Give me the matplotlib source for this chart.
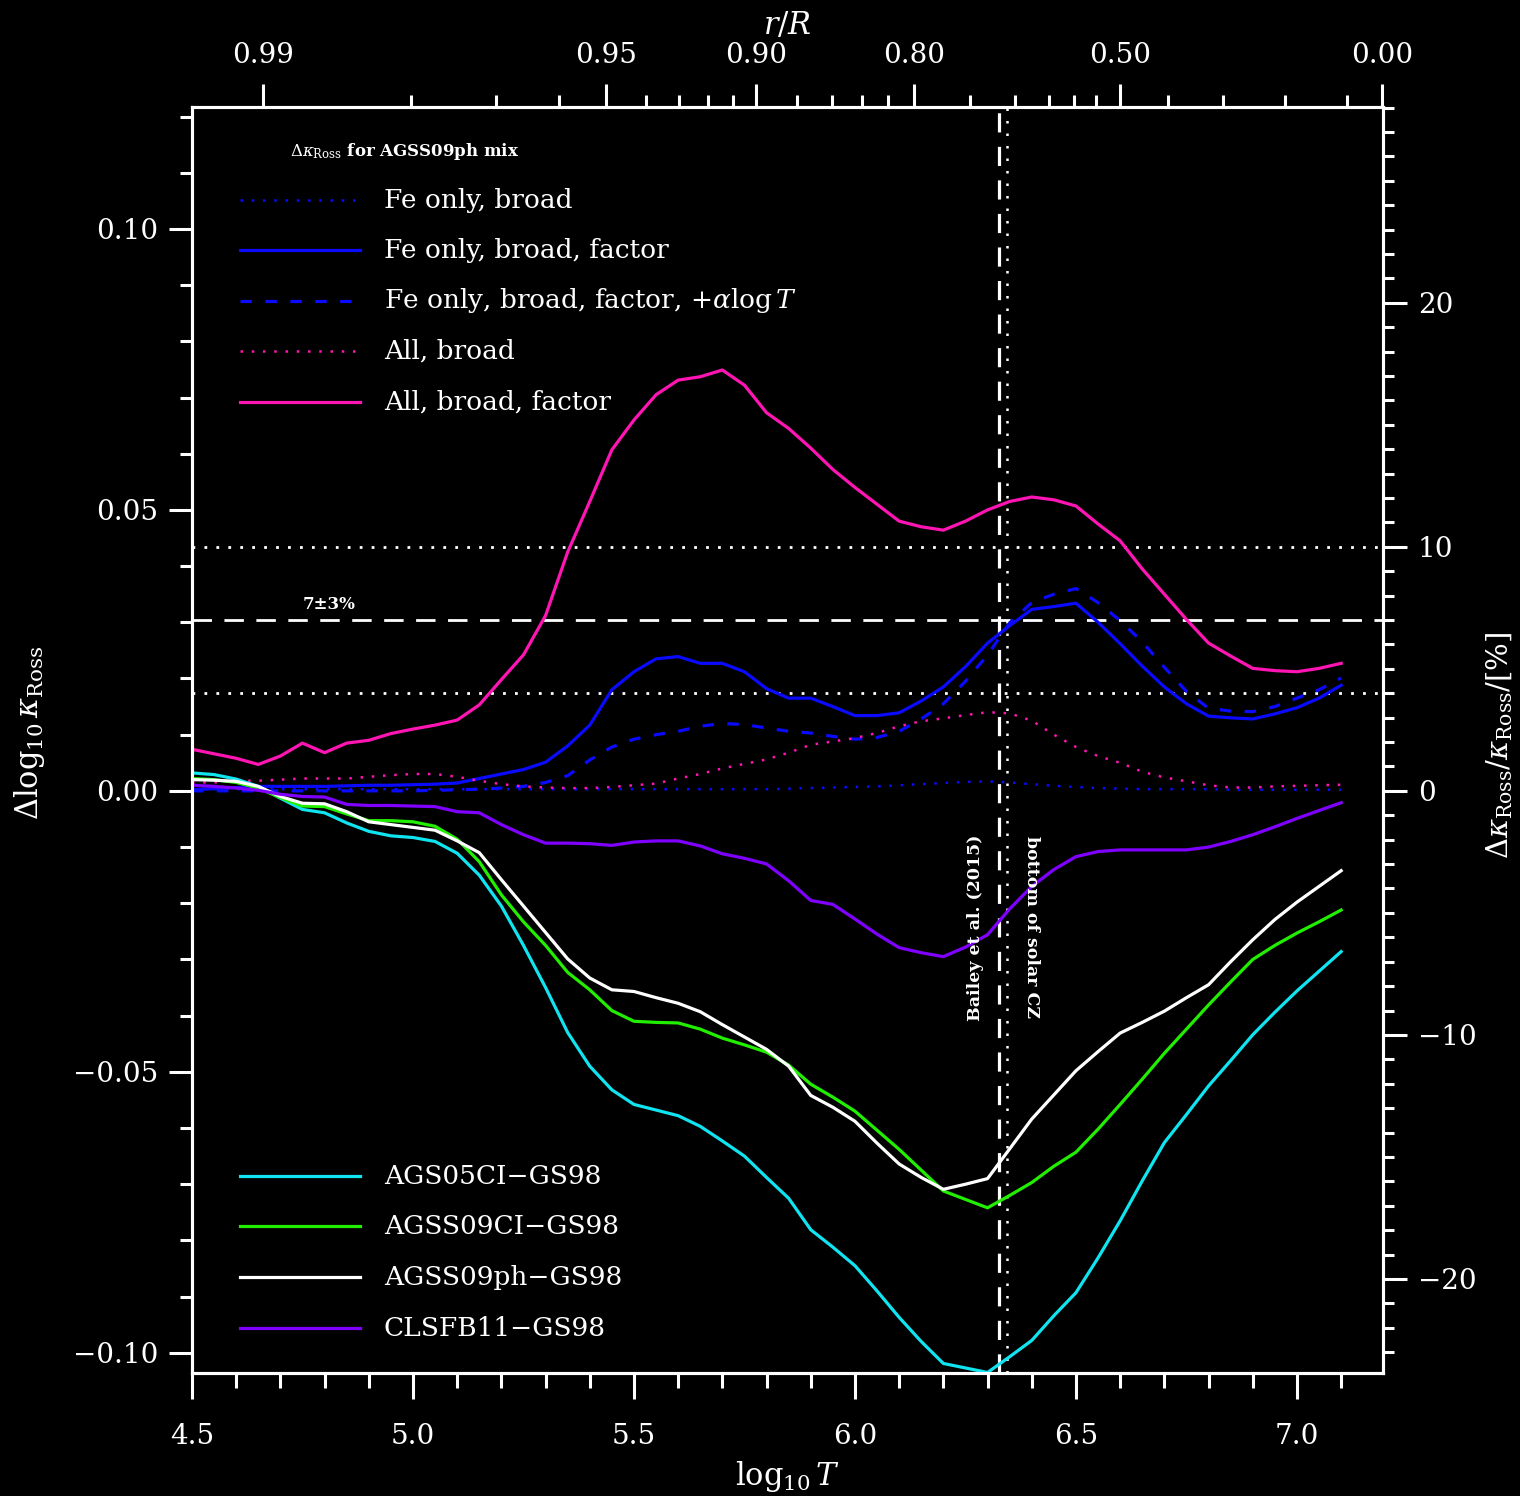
import numpy as np
import matplotlib
matplotlib.use('Agg')
import matplotlib.pyplot as plt
from matplotlib.ticker import MultipleLocator, FixedLocator, FuncFormatter
from matplotlib.lines import Line2D
from matplotlib.transforms import blended_transform_factory

plt.rcParams['font.family'] = ['DejaVu Serif']
plt.rcParams['mathtext.fontset'] = 'dejavuserif'

# ---------------- data ----------------
logT = [4.50, 4.55, 4.60, 4.65, 4.70, 4.75, 4.80, 4.85, 4.90, 4.95,
        5.00, 5.05, 5.10, 5.15, 5.20, 5.25, 5.30, 5.35, 5.40, 5.45,
        5.50, 5.55, 5.60, 5.65, 5.70, 5.75, 5.80, 5.85, 5.90, 5.95,
        6.00, 6.05, 6.10, 6.15, 6.20, 6.25, 6.30, 6.35, 6.40, 6.45,
        6.50, 6.55, 6.60, 6.65, 6.70, 6.75, 6.80, 6.85, 6.90, 6.95,
        7.00, 7.05, 7.10]

fe_broad = [.0003, .0003, .0003, .0003, .0003, .0003, .0003, .0003, .0003, .0003,
            .0003, .0003, .0003, .0003, .0003, .0003, .0003, .0003, .0003, .0003,
            .0003, .0003, .0003, .0003, .0003, .0003, .0003, .0004, .0005, .0006,
            .0007, .0008, .0010, .0012, .0014, .0016, .0017, .0015, .0012, .0009,
            .0007, .0005, .0004, .0003, .0003, .0003, .0003, .0002, .0002, .0002,
            .0002, .0002, .0002]

fe_factor = [.0002, .0004, .0006, .0008, .0008, .0008, .0008, .0009, .0010, .0010,
             .0011, .0012, .0014, .0022, .0030, .0038, .0051, .0080, .0117, .0180,
             .0212, .0235, .0239, .0227, .0227, .0212, .0182, .0165, .0165, .0150,
             .0134, .0134, .0139, .0160, .0185, .0221, .0263, .0294, .0323, .0328,
             .0334, .0300, .0262, .0222, .0185, .0155, .0133, .0130, .0128, .0137,
             .0148, .0165, .0188]

fe_factor_alpha = [.0000, .0000, .0000, .0000, .0000, .0000, .0000, .0000, .0000, .0000,
                   .0000, .0001, .0002, .0003, .0005, .0008, .0015, .0027, .0055, .0078,
                   .0092, .0100, .0106, .0115, .0120, .0118, .0112, .0106, .0103, .0097,
                   .0092, .0095, .0106, .0128, .0155, .0195, .0242, .0299, .0335, .0350,
                   .0360, .0335, .0303, .0265, .0220, .0177, .0147, .0142, .0141, .0150,
                   .0165, .0180, .0201]

all_broad = [.0015, .0015, .0018, .0018, .0020, .0022, .0022, .0022, .0025, .0028,
             .0030, .0030, .0025, .0018, .0012, .0008, .0006, .0005, .0005, .0007,
             .0010, .0013, .0022, .0030, .0040, .0048, .0056, .0068, .0082, .0088,
             .0094, .0103, .0115, .0124, .0129, .0135, .0140, .0138, .0125, .0100,
             .0078, .0062, .0050, .0034, .0024, .0017, .0010, .0006, .0006, .0008,
             .0009, .0010, .0011]

all_factor = [.0074, .0066, .0058, .0047, .0062, .0085, .0068, .0085, .0090, .0102,
              .0110, .0117, .0126, .0153, .0198, .0242, .0312, .0425, .0515, .0607,
              .0660, .0705, .0731, .0737, .0749, .0722, .0673, .0645, .0610, .0572,
              .0540, .0510, .0480, .0470, .0464, .0480, .0500, .0515, .0523, .0518,
              .0507, .0475, .0445, .0395, .0350, .0305, .0263, .0240, .0218, .0214,
              .0212, .0218, .0227]

ags05ci = [.0032, .0029, .0021, .0008, -.0013, -.0033, -.0039, -.0057, -.0072, -.0080,
           -.0083, -.0090, -.0111, -.0150, -.0205, -.0275, -.0350, -.0430, -.0490, -.0532,
           -.0558, -.0568, -.0578, -.0597, -.0623, -.0650, -.0688, -.0725, -.0781, -.0812,
           -.0845, -.0890, -.0937, -.0980, -.1019, -.1027, -.1035, -.1007, -.0978, -.0934,
           -.0893, -.0831, -.0765, -.0694, -.0626, -.0576, -.0525, -.0480, -.0434, -.0394,
           -.0356, -.0321, -.0286]

agss09ci = [.0022, .0020, .0015, .0005, -.0012, -.0027, -.0028, -.0041, -.0053, -.0053,
            -.0055, -.0063, -.0086, -.0126, -.0185, -.0233, -.0275, -.0323, -.0354, -.0391,
            -.0410, -.0412, -.0413, -.0424, -.0440, -.0452, -.0465, -.0488, -.0522, -.0545,
            -.0570, -.0604, -.0638, -.0675, -.0712, -.0727, -.0742, -.0720, -.0697, -.0668,
            -.0643, -.0602, -.0558, -.0513, -.0467, -.0424, -.0381, -.0340, -.0300, -.0275,
            -.0253, -.0233, -.0212]

agss09ph = [.0020, .0019, .0017, .0008, -.0010, -.0022, -.0023, -.0037, -.0055, -.0060,
            -.0065, -.0070, -.0089, -.0110, -.0158, -.0205, -.0252, -.0299, -.0333, -.0354,
            -.0357, -.0368, -.0378, -.0393, -.0416, -.0438, -.0460, -.0490, -.0542, -.0563,
            -.0588, -.0627, -.0664, -.0688, -.0709, -.0700, -.0690, -.0637, -.0584, -.0541,
            -.0498, -.0464, -.0431, -.0412, -.0392, -.0368, -.0345, -.0304, -.0265, -.0229,
            -.0198, -.0170, -.0142]

clsfb11 = [.0010, .0008, .0005, .0001, -.0006, -.0010, -.0011, -.0024, -.0026, -.0026,
           -.0027, -.0028, -.0037, -.0039, -.0060, -.0078, -.0093, -.0093, -.0094, -.0097,
           -.0091, -.0089, -.0089, -.0098, -.0112, -.0120, -.0130, -.0160, -.0195, -.0202,
           -.0228, -.0255, -.0279, -.0288, -.0295, -.0278, -.0256, -.0210, -.0170, -.0140,
           -.0117, -.0108, -.0105, -.0105, -.0105, -.0105, -.0100, -.0090, -.0078, -.0064,
           -.0049, -.0035, -.0021]

# top axis: r/R vs log10 T
rR_major_labels = ['0.99', '0.95', '0.90', '0.80', '0.50', '0.00']
rR_major_logT = [4.660, 5.437, 5.776, 6.133, 6.600, 7.193]
rR_minor_logT = [4.995, 5.188, 5.330, 5.528, 5.602, 5.667, 5.724, 5.869, 5.948,
                 6.016, 6.075, 6.260, 6.362, 6.439, 6.495, 6.545, 6.708, 6.833,
                 6.973, 7.114]

ref_pct = [4, 7, 10]          # reference opacity increases (%)
logT_bailey = 6.325
logT_cz = 6.343

# ---------------- figure ----------------
LN10 = np.log(10.0)
xlim = (4.5, 7.1946)
ylim = (-0.1036, 0.1217)

fig = plt.figure(figsize=(15.2, 14.96), dpi=100, facecolor='black')
ax = fig.add_axes([0.1263, 0.0822, 0.78355, 0.84626])
ax.set_facecolor('black')
ax.set_xlim(*xlim)
ax.set_ylim(*ylim)

W = 'white'
# reference lines
styles = {4: (0, (1, 3.3)), 7: (0, (7, 4.5)), 10: (0, (1, 3.3))}
for p in ref_pct:
    ax.axhline(p / (100 * LN10), color=W, lw=2.0, linestyle=styles[p], zorder=2)
ax.axvline(logT_bailey, color=W, lw=2.3, linestyle=(0, (6, 4.5)), zorder=2)
ax.axvline(logT_cz, color=W, lw=1.8, linestyle=(0, (1, 4)), zorder=2)

PINK = '#ff14b4'
BLUE = '#0a0aff'
CYAN = '#10e4f0'
GREEN = '#22ee00'
PURPLE = '#8000ff'

series = [
    (fe_broad, BLUE, (0, (1, 3.5)), 1.8, 'Fe only, broad'),
    (fe_factor, BLUE, '-', 2.3, 'Fe only, broad, factor'),
    (fe_factor_alpha, BLUE, (0, (3.6, 4.2)), 2.3, r'Fe only, broad, factor, +$\alpha\log T$'),
    (all_broad, PINK, (0, (1, 3.5)), 1.8, 'All, broad'),
    (all_factor, PINK, '-', 2.3, 'All, broad, factor'),
]
series2 = [
    (ags05ci, CYAN, '-', 2.3, 'AGS05CI\u2212GS98'),
    (agss09ci, GREEN, '-', 2.3, 'AGSS09CI\u2212GS98'),
    (agss09ph, W, '-', 2.3, 'AGSS09ph\u2212GS98'),
    (clsfb11, PURPLE, '-', 2.3, 'CLSFB11\u2212GS98'),
]
for vals, c, ls, lw, lab in series + series2:
    ax.plot(logT, vals, color=c, linestyle=ls, lw=lw, zorder=3, clip_on=True)

# manual legends (axes coordinates)
leg1_y = [0.9265, 0.8870, 0.8468, 0.8073, 0.7670]
leg2_y = [0.1556, 0.1161, 0.0758, 0.0355]
for (vals, c, ls, lw, lab), yy in list(zip(series, leg1_y)) + list(zip(series2, leg2_y)):
    ax.add_line(Line2D([0.0403, 0.141], [yy, yy], transform=ax.transAxes,
                       color=c, linestyle=ls, lw=lw))
    ax.text(0.161, yy, lab, transform=ax.transAxes, color=W, fontsize=19,
            va='center', ha='left')

ax.text(0.0823, 0.9645, r'$\Delta\kappa_{\rm Ross}$ for AGSS09ph mix', transform=ax.transAxes,
        color=W, fontsize=12, va='center', ha='left', fontweight='bold')
ax.text(0.0932, 0.607, '7\u00b13%', transform=ax.transAxes, color=W, fontsize=12,
        va='center', ha='left', fontweight='bold')

bt = blended_transform_factory(ax.transData, ax.transAxes)
ax.text(logT_bailey - 0.052, 0.352, 'Bailey et al. (2015)', transform=bt, rotation=90,
        color=W, fontsize=12.5, va='center', ha='center', fontweight='bold')
ax.text(logT_cz + 0.057, 0.352, 'bottom of solar CZ', transform=bt, rotation=270,
        color=W, fontsize=12.5, va='center', ha='center', fontweight='bold')

# ---------------- axes styling ----------------
def style_spines(a):
    for s in a.spines.values():
        s.set_color(W)
        s.set_linewidth(2.2)

style_spines(ax)
ax.xaxis.set_major_locator(MultipleLocator(0.5))
ax.xaxis.set_minor_locator(MultipleLocator(0.1))
ax.yaxis.set_major_locator(MultipleLocator(0.05))
ax.yaxis.set_minor_locator(MultipleLocator(0.01))
ax.xaxis.set_major_formatter(FuncFormatter(lambda v, p: f'{v:.1f}'))
ax.yaxis.set_major_formatter(FuncFormatter(lambda v, p: f'{v:.2f}'.replace('-', '\u2212')))
ax.tick_params(axis='x', which='major', direction='out', length=19, width=2.2,
               colors=W, labelsize=20, pad=17, top=False)
ax.tick_params(axis='x', which='minor', direction='out', length=11, width=2.2,
               colors=W, top=False)
ax.tick_params(axis='y', which='major', direction='out', length=16.5, width=2.2,
               colors=W, labelsize=20, pad=8, right=False)
ax.tick_params(axis='y', which='minor', direction='out', length=8.5, width=2.2,
               colors=W, right=False)

# right axis in percent
axr = ax.twinx()
axr.set_ylim(ylim[0] * 100 * LN10, ylim[1] * 100 * LN10)
style_spines(axr)
axr.yaxis.set_major_locator(MultipleLocator(10))
axr.yaxis.set_minor_locator(MultipleLocator(1))
axr.yaxis.set_major_formatter(FuncFormatter(lambda v, p: f'{v:.0f}'.replace('-', '\u2212')))
axr.tick_params(axis='y', which='major', direction='out', length=17, width=2.2,
                colors=W, labelsize=20, pad=8)
axr.tick_params(axis='y', which='minor', direction='out', length=8, width=2.2, colors=W)

# top axis in r/R
axt = ax.twiny()
axt.set_xlim(*xlim)
style_spines(axt)
axt.xaxis.set_major_locator(FixedLocator(rR_major_logT))
axt.xaxis.set_minor_locator(FixedLocator(rR_minor_logT))
axt.set_xticklabels(rR_major_labels)
axt.tick_params(axis='x', which='major', direction='out', length=16.5, width=2.2,
                colors=W, labelsize=20, pad=11)
axt.tick_params(axis='x', which='minor', direction='out', length=8.5, width=2.2, colors=W)

# axis labels
fig.text(0.0197, 0.510, r'$\Delta\log_{10}\kappa_{\rm Ross}$', rotation=90, color=W,
         fontsize=22, va='center', ha='center')
fig.text(0.9868, 0.502, r'$\Delta\kappa_{\rm Ross}/\kappa_{\rm Ross}/[\%]$', rotation=90,
         color=W, fontsize=21, va='center', ha='center')
fig.text(0.518, 0.013, r'$\log_{10}T$', color=W, fontsize=22, va='center', ha='center')
fig.text(0.518, 0.983, r'$r/R$', color=W, fontsize=22, va='center', ha='center')

fig.savefig('out.png', dpi=100, facecolor='black')
